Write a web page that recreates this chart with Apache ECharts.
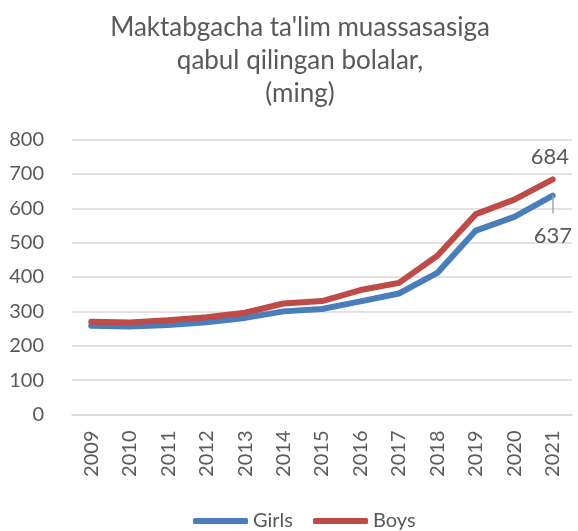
<!DOCTYPE html>
<html>
<head>
<meta charset="utf-8">
<script src="https://cdn.jsdelivr.net/npm/echarts@6/dist/echarts.min.js"></script>
<style>
  html, body { margin: 0; padding: 0; background: #fff; }
  #main { width: 578px; height: 531px; }
</style>
</head>
<body>
<div id="main"></div>
<script>
// yillar va qiymatlar (ming)
var years = ['2009', '2010', '2011', '2012', '2013', '2014', '2015', '2016', '2017', '2018', '2019', '2020', '2021'];
var girls = [258, 256, 260, 268, 281, 300, 307, 329, 352, 412, 535, 575, 637];
var boys = [270, 268, 274, 283, 296, 323, 330, 362, 383, 462, 583, 625, 684];

var chart = echarts.init(document.getElementById('main'));
var font = 'Lato, "Open Sans", sans-serif';
var grey = '#595959';

// turn the last value into an item carrying its own label
function withEndLabel(arr, label) {
  return arr.map(function (v, i) {
    if (i !== arr.length - 1) return v;
    return { value: v, symbol: 'circle', symbolSize: 0.1, label: label };
  });
}

var option = {
  backgroundColor: '#fff',
  animation: false,
  color: ['#4A7EBB', '#BE4B48'],
  title: {
    text: "Maktabgacha ta'lim muassasasiga\nqabul qilingan bolalar,\n(ming)",
    left: 295,
    textAlign: 'center',
    top: 6,
    textStyle: {
      fontFamily: font,
      fontSize: 26,
      fontWeight: 'normal',
      color: grey,
      lineHeight: 33
    }
  },
  grid: {
    left: 72,
    right: 6,
    top: 139.5,
    bottom: 116.5
  },
  legend: {
    data: ['Girls', 'Boys'],
    left: 188,
    top: 506,
    itemWidth: 55,
    itemHeight: 6,
    itemGap: 20,
    icon: 'roundRect',
    textStyle: { fontFamily: font, fontSize: 20, color: grey }
  },
  xAxis: {
    type: 'category',
    data: years,
    boundaryGap: true,
    axisLine: { lineStyle: { color: '#d9d9d9', width: 1.5 } },
    axisTick: { show: false },
    axisLabel: {
      rotate: 90,
      margin: 16,
      fontFamily: font,
      fontSize: 20,
      color: grey
    }
  },
  yAxis: {
    type: 'value',
    min: 0,
    max: 800,
    interval: 100,
    axisLine: { show: false },
    axisTick: { show: false },
    splitLine: { lineStyle: { color: '#d9d9d9', width: 1.5 } },
    axisLabel: {
      margin: 28,
      fontFamily: font,
      fontSize: 20,
      color: grey
    }
  },
  series: [
    {
      name: 'Girls',
      type: 'line',
      data: withEndLabel(girls, {
        show: true,
        position: 'bottom',
        distance: 29,
        fontFamily: font,
        fontSize: 22,
        color: grey
      }),
      symbol: 'none',
      lineStyle: { width: 6, cap: 'round', join: 'round' },
      z: 2
    },
    {
      name: 'Boys',
      type: 'line',
      data: withEndLabel(boys, {
        show: true,
        position: 'top',
        distance: 11,
        offset: [-3, 0],
        fontFamily: font,
        fontSize: 22,
        color: grey
      }),
      symbol: 'none',
      lineStyle: { width: 6, cap: 'round', join: 'round' },
      z: 3
    },
    {
      // leader line for the 637 label
      type: 'line',
      silent: true,
      data: [],
      markLine: {
        silent: true,
        symbol: 'none',
        label: { show: false },
        lineStyle: { color: '#a6a6a6', width: 1.5, type: 'solid' },
        data: [[
          { coord: ['2021', girls[girls.length - 1]] },
          { coord: ['2021', girls[girls.length - 1] - 52] }
        ]]
      }
    }
  ]
};

chart.setOption(option);
</script>
</body>
</html>
